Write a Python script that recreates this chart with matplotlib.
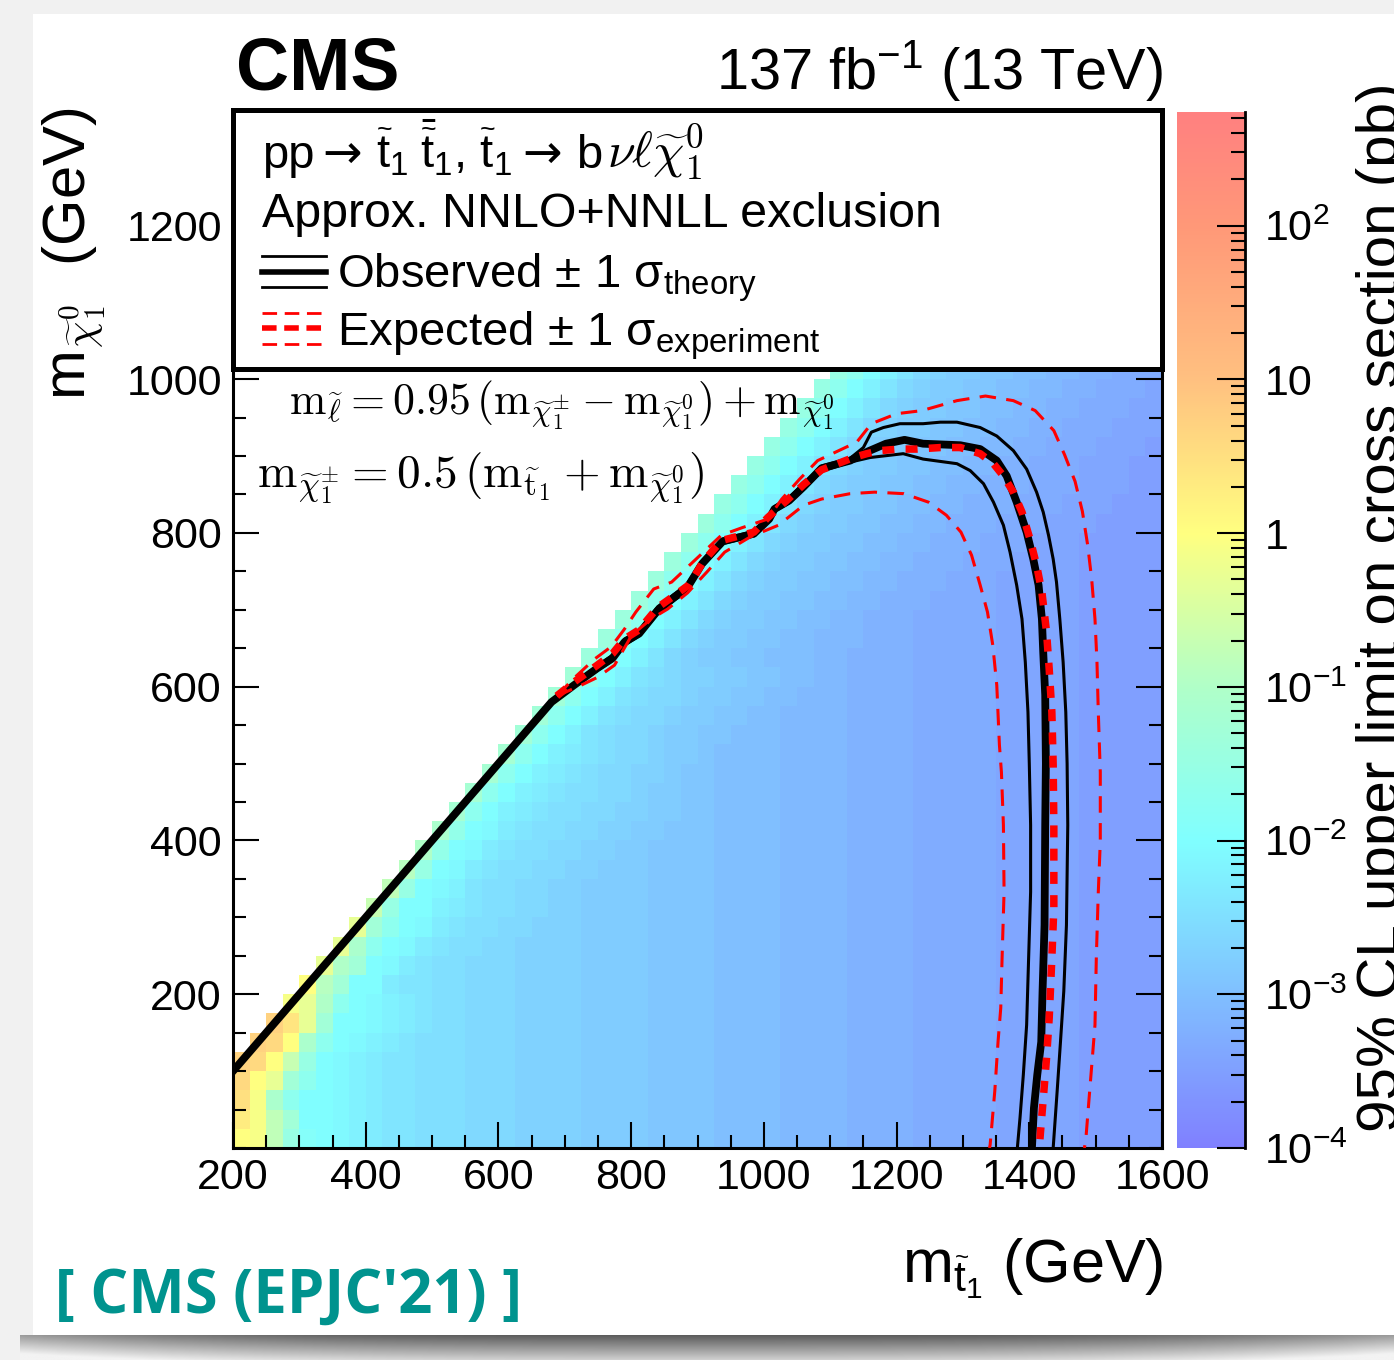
import numpy as np
import matplotlib
matplotlib.use("Agg")
import matplotlib.pyplot as plt
from matplotlib.colors import LinearSegmentedColormap, LogNorm
from matplotlib.patches import Rectangle
from matplotlib.lines import Line2D
import matplotlib.ticker as mticker

# ---------------------------------------------------------------- data
stop_mass_edges = np.arange(200, 1601, 25)     # m(stop) bin edges, GeV
lsp_mass_edges = np.arange(0, 1026, 25)        # m(LSP) bin edges, GeV

# cross-section upper limit, one character per 25 GeV cell (log10 level code)
LEVELS = "0123456789abcdefghijklmnopqrstuvwxyzABCDEFGHIJKLMNOPQRSTUVWXYZ"
LEVEL_OFFSET = -3.6   # log10(pb) of level '0'
LEVEL_STEP = 0.1
HEAT_ROWS = [
    "Azslhgfedc cbbbaaa999 9888877776 6665555444 4333332222 211111",
    "Dzsnggfedc cbbbaaa999 9888877776 6665555444 4333332222 211111",
    "Fzpjggfedc cbbbaaa999 9888877776 6665555444 4333332222 211111",
    "GAxnjgfedc cbbbaaa999 9888877776 6665555444 4333332222 211111",
    "HGAtlgfedc cbbbaaa999 9888877776 6665555444 4333332222 211111",
    ".HGApjgfed cbbbaaa999 9888877776 6665555444 4333332222 211111",
    "..HExnggfe dcbbaaa999 9888877776 6665555444 4333332222 211111",
    "...zxqjgfe dcbbaaa999 9888877776 6665555444 4333332222 211111",
    "....Arnggd ccbbaaa999 9888877776 6665555444 4333332222 211111",
    ".....xqngf dcbbaaa999 9888877776 6665555444 4333332222 211111",
    "......xpjg fdcbbaa999 9888877776 6665555444 4333332222 211111",
    ".......xnj gfdcbbaa99 9888877776 6665555444 4333332222 211111",
    "........tl ggedcbbaa9 9888877776 6665555444 4333332222 211111",
    ".........s lgfecbbaa9 9888877776 6665555444 4333332222 211111",
    ".......... rlgfdcbbaa 9988877776 6665555444 4333332222 211111",
    ".......... .qkgfdcbba a998877776 6665555444 4333332222 211111",
    ".......... ..pkgfdcbb aa99887776 6665555444 4333332222 211111",
    ".......... ...ojgedcb baa9988776 6665555444 4333332222 211111",
    ".......... ....ojgedc bbaa988776 6665555444 4333332222 211111",
    ".......... .....ojged cbaa998776 6665555444 4333332222 211111",
    ".......... ......ojge dcbaa98876 6665555444 4333332222 211111",
    ".......... .......njg ecbaa98877 6665555444 4333332222 211111",
    ".......... ........nj gecbaa9887 7665555444 4333332222 211111",
    ".......... .........n jgecbaa988 7766555444 4333332222 211111",
    ".......... .......... njgecba998 8776655444 4333332222 211111",
    ".......... .......... .mjgeca988 7766655444 4333332222 211111",
    ".......... .......... ..mjgeca98 8776655544 4333332222 211111",
    ".......... .......... ...mjgeca9 8877665544 4333332222 211111",
    ".......... .......... ....mjgeca 9887766554 4433332222 211111",
    ".......... .......... .....mjgec a988776655 4443332222 211111",
    ".......... .......... ......mjge ca98877665 5444333222 211111",
    ".......... .......... .......mjg eca9887766 5544433322 211111",
    ".......... .......... ........mj geca988776 6554443332 221111",
    ".......... .......... .........l jgeca98877 6655444333 222111",
    ".......... .......... .......... ljgeca9887 7665544433 322211",
    ".......... .......... .......... .ljgeca988 7766554433 322211",
    ".......... .......... .......... ..ljgeca98 8776655443 332221",
    ".......... .......... .......... ...ljgeca9 8877665544 333222",
    ".......... .......... .......... ....ljgeca 9887766554 433322",
    ".......... .......... .......... .....ljgec a988776655 443332",
    ".......... .......... .......... ......ljge ca98877665 544333",
]

# observed exclusion contour and its theory variations (GeV)
obs_x = [200, 680, 714, 749, 772, 790, 812, 840, 866, 884, 907, 938, 985, 1008, 1016,
         1038, 1060, 1087, 1130, 1157, 1184, 1212, 1240, 1296, 1326, 1351, 1366, 1381,
         1396, 1406, 1414, 1419, 1421, 1424, 1425, 1424, 1423, 1420, 1418, 1412, 1407, 1404]
obs_y = [100, 580, 602, 624, 637, 658, 669, 699, 717, 728, 760, 789, 799, 818, 831,
         842, 860, 884, 894, 906, 916, 921, 916, 914, 909, 894, 874, 840,
         801, 766, 732, 688, 645, 589, 500, 420, 290, 204, 138, 95, 52, 0]
obs_up_x = [200, 680, 714, 749, 772, 790, 812, 840, 866, 884, 907, 938, 985, 1008, 1016,
            1038, 1060, 1087, 1130, 1150, 1162, 1180, 1205, 1240, 1266, 1291, 1326, 1351,
            1376, 1396, 1411, 1421, 1429, 1436, 1441, 1446, 1451, 1455, 1457, 1458, 1456,
            1452, 1447, 1442, 1436]
obs_up_y = [100, 580, 604, 627, 641, 662, 673, 704, 721, 733, 764, 792, 802, 821, 834,
            846, 864, 887, 897, 911, 931, 937, 942, 942, 944, 944, 937, 926,
            907, 883, 853, 827, 797, 766, 736, 688, 632, 567, 500, 420, 290,
            204, 138, 74, 0]
obs_dn_x = [200, 680, 714, 749, 772, 790, 812, 840, 866, 884, 907, 938, 985, 1008, 1016,
            1038, 1060, 1087, 1130, 1160, 1180, 1210, 1240, 1291, 1311, 1331, 1346, 1361,
            1371, 1381, 1389, 1394, 1398, 1400, 1402, 1402, 1399, 1396, 1391, 1386, 1382]
obs_dn_y = [100, 580, 600, 621, 634, 654, 666, 695, 713, 724, 756, 786, 796, 815, 828,
            839, 857, 880, 892, 898, 900, 903, 896, 890, 881, 864, 840, 810,
            775, 732, 688, 632, 567, 500, 420, 333, 247, 160, 95, 39, 0]

# expected exclusion contour and its experimental variations (GeV)
exp_x = [688, 714, 749, 772, 790, 812, 840, 866, 888, 909, 936, 985, 1006, 1038, 1060,
         1087, 1105, 1135, 1155, 1175, 1205, 1230, 1266, 1296, 1326, 1346, 1361, 1376,
         1389, 1401, 1411, 1419, 1426, 1430, 1434, 1436, 1437, 1437, 1434, 1430, 1426,
         1422, 1417, 1415]
exp_y = [588, 606, 628, 643, 662, 674, 703, 719, 733, 763, 790, 801, 820, 845, 863,
         882, 888, 898, 903, 907, 909, 909, 911, 911, 903, 890, 874, 853,
         827, 792, 758, 723, 671, 623, 567, 498, 420, 312, 247, 169, 117,
         74, 22, 0]
exp_up_x = [688, 715, 745, 770, 790, 807, 834, 861, 909, 936, 968, 1006, 1027, 1054,
            1081, 1108, 1140, 1162, 1200, 1238, 1291, 1334, 1376, 1409, 1437, 1453, 1469,
            1480, 1488, 1494, 1499, 1502, 1504, 1507, 1507, 1504, 1501, 1499, 1495, 1491,
            1485, 1483]
exp_up_y = [588, 612, 636, 652, 675, 697, 727, 736, 775, 797, 807, 818, 844, 870,
            894, 905, 918, 942, 955, 959, 972, 978, 972, 959, 933, 902, 867,
            828, 784, 740, 688, 632, 567, 489, 398, 333, 247, 160, 117, 74,
            9, 0]
exp_dn_x = [688, 720, 749, 775, 801, 830, 855, 885, 914, 941, 980, 1022, 1060, 1087,
            1130, 1167, 1211, 1248, 1275, 1297, 1313, 1326, 1337, 1345, 1351, 1355, 1358,
            1361, 1362, 1359, 1357, 1353, 1348, 1341, 1340]
exp_dn_y = [588, 600, 612, 628, 667, 688, 701, 722, 749, 775, 795, 810, 836, 844,
            851, 853, 851, 840, 823, 801, 771, 732, 697, 654, 602, 524, 489,
            420, 333, 247, 182, 139, 74, 4, 0]

x_ticks = [200, 400, 600, 800, 1000, 1200, 1400, 1600]
y_ticks = [200, 400, 600, 800, 1000, 1200]
cb_ticks = [1e-4, 1e-3, 1e-2, 1e-1, 1, 10, 100]
cb_ticklabels = [r"10$^{-4}$", r"10$^{-3}$", r"10$^{-2}$", r"10$^{-1}$", "1", "10", r"10$^{2}$"]
z_min, z_max = 1e-4, 10 ** 2.74

# ---------------------------------------------------------------- style
plt.rcParams["font.family"] = ["Liberation Sans", "DejaVu Sans"]
plt.rcParams["mathtext.fontset"] = "custom"
plt.rcParams["mathtext.rm"] = "Liberation Sans"
plt.rcParams["mathtext.it"] = "Liberation Sans:italic"
plt.rcParams["mathtext.bf"] = "Liberation Sans:bold"
plt.rcParams["mathtext.sf"] = "Liberation Sans"

W, H, DPI = 1394, 1360, 100
fig = plt.figure(figsize=(W / DPI, H / DPI), dpi=DPI)
fig.patch.set_facecolor("#f1f1f1")


def fx(px):
    return px / W


def fy(py):
    return 1 - py / H


# paper card + shadow
fig.add_artist(Rectangle((fx(33), fy(1336)), 1.0, (1336 - 14) / H, transform=fig.transFigure,
                         facecolor="white", edgecolor="none", zorder=-5))
sh_ax = fig.add_axes([fx(20), 0, 1 - fx(20), (1360 - 1335) / H], zorder=-4)
gy = np.linspace(0, 1, 30)[:, None]
gx = np.linspace(0, 1, 300)[None, :]
shade = 0.36 + 0.45 * gy + 0.25 * (np.abs(gx - 0.5) * 2) ** 3
sh_ax.imshow(np.clip(shade, 0, 0.95), cmap="gray", vmin=0, vmax=1, aspect="auto",
             extent=[0, 1, 0, 1], origin="upper")
sh_ax.axis("off")

# colormap (ROOT-like pastel rainbow)
anchors = [(-4.0, "#8080ff"), (-2.0, "#80ffff"), (-1.0, "#b0ffc8"), (0.0, "#ffff80"),
           (1.0, "#ffc080"), (2.0, "#ff9878"), (2.74, "#ff8080")]
lo, hi = np.log10(z_min), np.log10(z_max)
cmap = LinearSegmentedColormap.from_list(
    "pastel_rainbow", [((v - lo) / (hi - lo), c) for v, c in anchors], N=512)

# ---------------------------------------------------------------- main axes
ax = fig.add_axes([fx(233), fy(1148), (1162 - 233) / W, (1148 - 110) / H])
ax.set_facecolor("white")

rows = [r.replace(" ", "") for r in HEAT_ROWS]
Z = np.full((len(rows), len(stop_mass_edges) - 1), np.nan)
for j, r in enumerate(rows):
    for i, ch in enumerate(r):
        if ch != ".":
            Z[j, i] = 10 ** (LEVEL_OFFSET + LEVEL_STEP * LEVELS.index(ch))
mesh = ax.pcolormesh(stop_mass_edges, lsp_mass_edges, np.ma.masked_invalid(Z), cmap=cmap,
                     norm=LogNorm(z_min, z_max), shading="flat", antialiased=False,
                     linewidth=0, zorder=1)

ax.set_xlim(200, 1600)
ax.set_ylim(0, 1350)

# contours
ax.plot(obs_up_x, obs_up_y, color="black", lw=2.2, zorder=3, solid_joinstyle="round")
ax.plot(obs_dn_x, obs_dn_y, color="black", lw=2.2, zorder=3, solid_joinstyle="round")
ax.plot(obs_x, obs_y, color="black", lw=5.6, zorder=3, solid_joinstyle="round")
ax.plot(exp_up_x, exp_up_y, color="#ff0000", lw=2.2, dashes=(5.4, 3.4), zorder=4)
ax.plot(exp_dn_x, exp_dn_y, color="#ff0000", lw=2.2, dashes=(5.4, 3.4), zorder=4)
ax.plot(exp_x, exp_y, color="#ff0000", lw=5.4, dashes=(1.6, 1.5), zorder=4)

# ticks
ax.set_xticks(x_ticks)
ax.set_yticks(y_ticks)
ax.xaxis.set_minor_locator(mticker.MultipleLocator(50))
ax.yaxis.set_minor_locator(mticker.MultipleLocator(50))
ax.tick_params(which="major", direction="in", length=19, width=1.5, labelsize=31,
               top=False, right=True, pad=7)
ax.tick_params(which="minor", direction="in", length=9.5, width=1.5, top=False, right=True)
ax.tick_params(axis="y", pad=8)
for s in ax.spines.values():
    s.set_linewidth(2.2)
ax.spines["top"].set_visible(False)

# legend box
ybox = (1148 - 369) / (1148 - 110)
ax.add_patch(Rectangle((0, ybox), 1, 1 - ybox, transform=ax.transAxes, facecolor="white",
                       edgecolor="black", lw=3.6, zorder=10, clip_on=False))

# annotations inside plot (Computer Modern)
fig.text(fx(289), fy(415),
         r"$\mathrm{m}_{\widetilde{\ell}} = 0.95\,(\mathrm{m}_{\widetilde{\chi}^{\pm}_{1}}"
         r" - \mathrm{m}_{\widetilde{\chi}^{0}_{1}}) + \mathrm{m}_{\widetilde{\chi}^{0}_{1}}$",
         fontsize=31.5, ha="left", va="baseline", math_fontfamily="cm", zorder=20)
fig.text(fx(257), fy(488),
         r"$\mathrm{m}_{\widetilde{\chi}^{\pm}_{1}} = 0.5\,(\mathrm{m}_{\widetilde{\mathrm{t}}_{1}}"
         r" + \mathrm{m}_{\widetilde{\chi}^{0}_{1}})$",
         fontsize=34, ha="left", va="baseline", math_fontfamily="cm", zorder=20)

# legend content
LEG_FS = 34
renderer = fig.canvas.get_renderer()
line1 = [
    ("pp", 0, {}),
    ("→", 8, {"family": ["DejaVu Sans"]}),
    (r"$\widetilde{\mathrm{t}}_{1}\;\bar{\widetilde{\mathrm{t}}}_{1}$, $\widetilde{\mathrm{t}}_{1}$",
     14, {}),
    ("→", 10, {"family": ["DejaVu Sans"]}),
    ("b", 14, {}),
    (r"$\nu\ell\widetilde{\chi}^{0}_{1}$", 5, {"math_fontfamily": "cm", "fontsize": LEG_FS + 2}),
]
xpos = 262
for txt, gap, kw in line1:
    kw = dict(kw)
    fs = kw.pop("fontsize", LEG_FS)
    xpos += gap
    t = fig.text(fx(xpos), fy(168), txt, fontsize=fs, ha="left", va="baseline", zorder=20, **kw)
    xpos = t.get_window_extent(renderer=renderer).x1

fig.text(fx(262), fy(227), "Approx. NNLO+NNLL exclusion", fontsize=LEG_FS + 0.8, ha="left",
         va="baseline", zorder=20)
fig.text(fx(337), fy(287), r"Observed ± 1 $\mathrm{\sigma}_{\mathrm{theory}}$",
         fontsize=LEG_FS, ha="left", va="baseline", zorder=20)
fig.text(fx(337), fy(345), r"Expected ± 1 $\mathrm{\sigma}_{\mathrm{experiment}}$",
         fontsize=LEG_FS, ha="left", va="baseline", zorder=20)
for yy, lw in [(256, 2.0), (271.5, 4.0), (287, 2.0)]:
    fig.add_artist(Line2D([fx(262), fx(326)], [fy(yy)] * 2, color="black", lw=lw, zorder=20))
for yy, lw in [(313, 2.0), (328, 4.0), (344, 2.0)]:
    fig.add_artist(Line2D([fx(262), fx(324)], [fy(yy)] * 2, color="#ff0000", lw=lw,
                          dashes=(10.5 / lw, 5.5 / lw), zorder=20))

# ---------------------------------------------------------------- colorbar
cax = fig.add_axes([fx(1177), fy(1148), (1245 - 1177) / W, (1148 - 112) / H])
cb = fig.colorbar(mesh, cax=cax)
cb.outline.set_visible(False)
cax.yaxis.set_ticks_position("right")
cax.set_yticks(cb_ticks)
cax.set_yticklabels(cb_ticklabels)
cax.yaxis.set_minor_locator(mticker.LogLocator(base=10, subs=np.arange(2, 10)))
cax.yaxis.set_minor_formatter(mticker.NullFormatter())
cax.tick_params(which="major", direction="in", length=20, width=1.5, labelsize=31, pad=14)
cax.tick_params(which="minor", direction="in", length=10, width=1.5)
cax.plot([1, 1], [0, 1], transform=cax.transAxes, color="black", lw=2.0, clip_on=False)

# ---------------------------------------------------------------- titles & labels
fig.text(fx(236), fy(89), "CMS", fontsize=53, fontweight="bold", ha="left", va="baseline")
fig.text(fx(1163), fy(89), r"137 fb$^{-1}$ (13 TeV)", fontsize=41.5, ha="right",
         va="baseline")
fig.text(fx(1163), fy(1283), r"m$_{\widetilde{\mathrm{t}}_{1}}$ (GeV)", fontsize=44,
         ha="right", va="baseline")
fig.text(fx(74), fy(108), r"m$_{\widetilde{\chi}^{0}_{1}}$  (GeV)", fontsize=43, rotation=90,
         ha="center", va="top", math_fontfamily="cm")
fig.text(fx(1356), fy(1132), "95% CL upper limit on cross section (pb)", fontsize=42,
         rotation=90, ha="left", va="bottom")
fig.text(fx(55), fy(1313), "[ CMS (EPJC'21) ]", fontsize=43, fontweight="bold",
         color="#00938e", family=["Open Sans", "Liberation Sans"], ha="left", va="baseline")

fig.savefig("out.png", dpi=DPI, facecolor=fig.get_facecolor())
